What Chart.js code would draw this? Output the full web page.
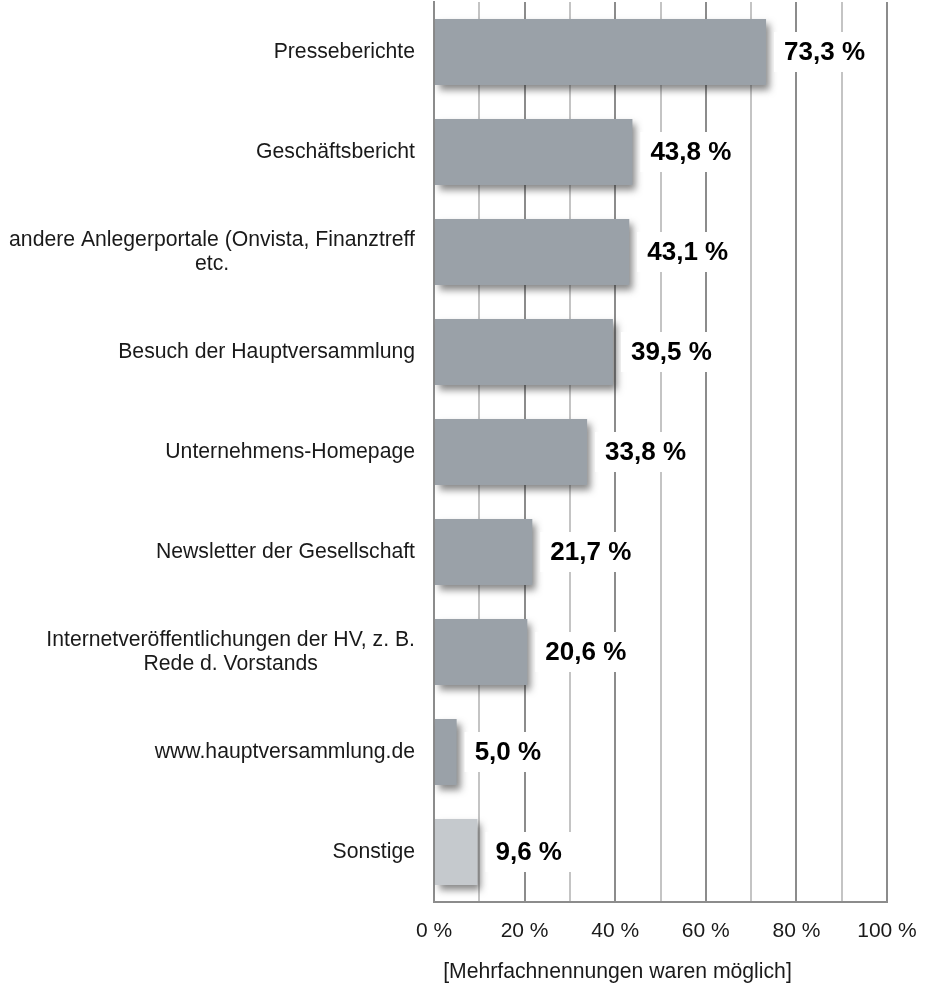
<!DOCTYPE html>
<html>
<head>
<meta charset="utf-8">
<script src="https://cdn.jsdelivr.net/npm/chart.js@4"></script>
<style>
  html, body { margin: 0; padding: 0; background: #fff; }
  #wrap { width: 925px; height: 984px; }
</style>
</head>
<body>
<div id="wrap"><canvas id="myChart" width="925" height="984"></canvas></div>
<script>
// data
const categories = [
    ["Presseberichte"],
    ["Geschäftsbericht"],
    ["andere Anlegerportale (Onvista, Finanztreff", "etc."],
    ["Besuch der Hauptversammlung"],
    ["Unternehmens-Homepage"],
    ["Newsletter der Gesellschaft"],
    ["Internetveröffentlichungen der HV, z. B.", "Rede d. Vorstands"],
    ["www.hauptversammlung.de"],
    ["Sonstige"]
];
const shares = [73.3, 43.8, 43.1, 39.5, 33.8, 21.7, 20.6, 5.0, 9.6];
const barColors = ["#9aa1a8", "#9aa1a8", "#9aa1a8", "#9aa1a8", "#9aa1a8", "#9aa1a8", "#9aa1a8", "#9aa1a8", "#c5c9cd"];
const axisTitle = "[Mehrfachnennungen waren möglich]";

const fontFamily = "'Liberation Sans', Arial, sans-serif";

function percentText(v){
    return v.toFixed(1).replace(".", ",") + " %";
}

// shadow under the bars, value boxes after
const barDecor = {
    id: "barDecor",
    beforeDatasetsDraw(chart) {
        const ctx = chart.ctx;
        ctx.save();
        ctx.shadowColor = "rgba(40,40,40,0.55)";
        ctx.shadowBlur = 7;
        ctx.shadowOffsetX = 4;
        ctx.shadowOffsetY = 5;
    },
    afterDatasetsDraw(chart) {
        const ctx = chart.ctx;
        ctx.restore();
        ctx.save();
        ctx.font = "bold 26px " + fontFamily;
        ctx.textBaseline = "middle";
        ctx.textAlign = "left";
        const meta = chart.getDatasetMeta(0);
        meta.data.forEach((bar, i) => {
            const txt = percentText(shares[i]);
            const w = ctx.measureText(txt).width;
            ctx.fillStyle = "#fff";
            ctx.fillRect(bar.x + 8, bar.y - 20, w + 20, 40);
            ctx.fillStyle = "#000";
            ctx.fillText(txt, bar.x + 18, bar.y + 1);
        });
        ctx.restore();
    },
    afterDraw(chart) {
        const ctx = chart.ctx;
        const y = chart.scales.y;
        const x = chart.scales.x;
        ctx.save();
        ctx.font = "21.2px " + fontFamily;
        ctx.fillStyle = "#1a1a1a";
        ctx.textBaseline = "middle";
        ctx.textAlign = "center";
        const right = chart.chartArea.left - 19;
        categories.forEach((lines, i) => {
            const cy = y.getPixelForTick(i);
            const bw = Math.max(...lines.map(l => ctx.measureText(l).width));
            const cx = right - bw / 2;
            const lh = 24;
            const top = cy - (lines.length - 1) * lh / 2;
            lines.forEach((l, j) => ctx.fillText(l, cx, top + j * lh));
        });
        // axis note under the ticks
        ctx.fillText(axisTitle, x.getPixelForValue(40.5), chart.height - 12);
        ctx.restore();
    }
};

const ctx = document.getElementById("myChart");

new Chart(ctx, {
    type: "bar",
    data: {
        labels: categories,
        datasets: [{
            data: shares,
            backgroundColor: barColors,
            borderWidth: 0,
            barPercentage: 0.66,
            categoryPercentage: 1.0
        }]
    },
    options: {
        indexAxis: "y",
        responsive: false,
        animation: false,
        layout: { padding: { top: 2, right: 38, left: 0, bottom: 0 } },
        plugins: {
            legend: { display: false },
            tooltip: { enabled: false }
        },
        scales: {
            x: {
                min: 0,
                max: 100,
                afterFit(scale) {
                    scale.height = 82;
                    scale.paddingLeft = 0;
                    scale.paddingRight = 0;
                },
                ticks: {
                    stepSize: 10,
                    autoSkip: false,
                    maxRotation: 0,
                    padding: 17,
                    color: "#1a1a1a",
                    font: { family: fontFamily, size: 21 },
                    callback: v => (v % 20 === 0 ? v + " %" : "")
                },
                grid: {
                    drawTicks: false,
                    lineWidth: 2,
                    color: c => (c.tick && c.tick.value % 20 === 0 ? "#8c8c8c" : "#c4c4c4")
                },
                border: { color: "#8c8c8c", width: 2 }
            },
            y: {
                afterFit(scale) { scale.width = 434; },
                ticks: { display: false },
                grid: { display: false },
                border: { color: "#8c8c8c", width: 2 }
            }
        }
    },
    plugins: [barDecor]
});
</script>
</body>
</html>
